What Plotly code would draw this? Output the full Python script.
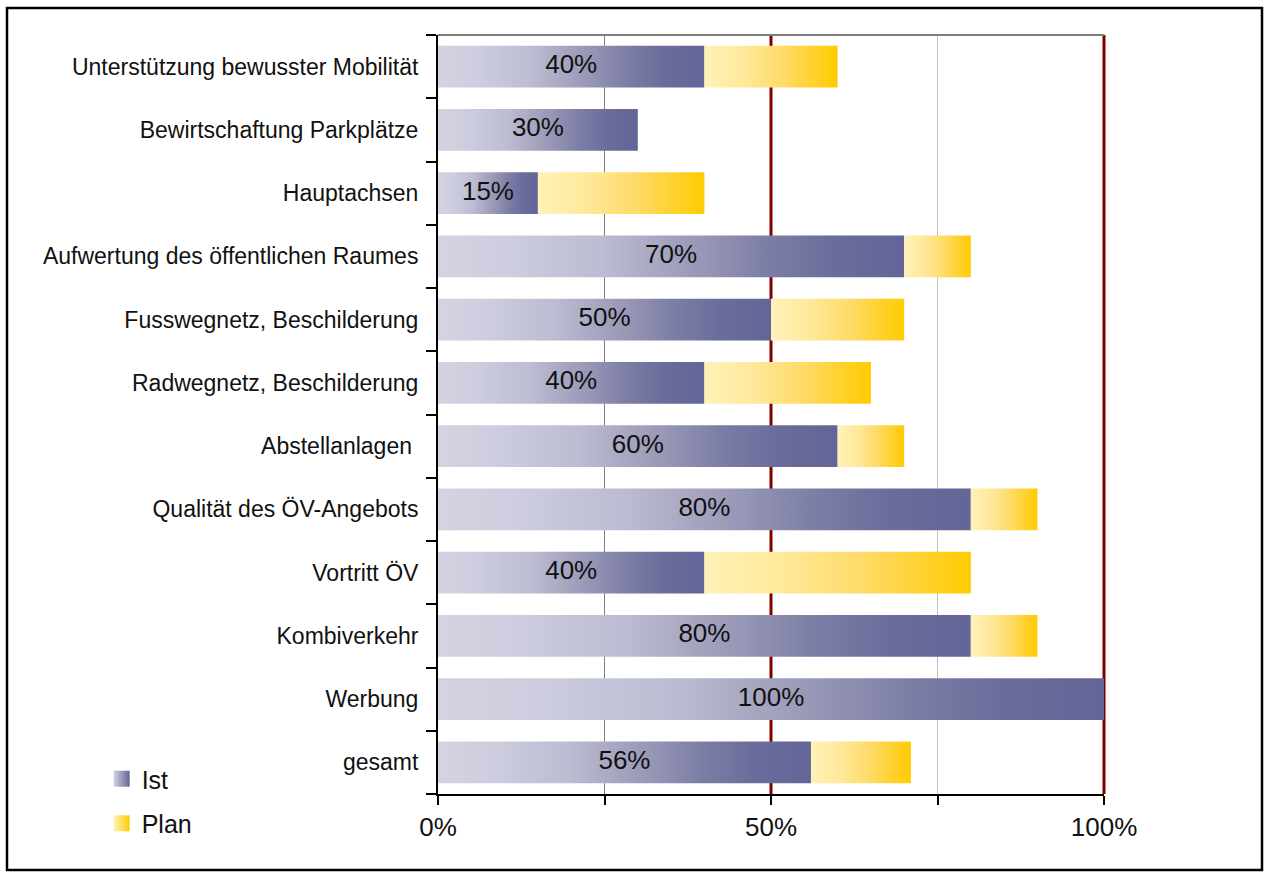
import plotly.graph_objects as go

categories = [
    "Unterstützung bewusster Mobilität",
    "Bewirtschaftung Parkplätze",
    "Hauptachsen",
    "Aufwertung des öffentlichen Raumes",
    "Fusswegnetz, Beschilderung",
    "Radwegnetz, Beschilderung",
    "Abstellanlagen ",
    "Qualität des ÖV-Angebots",
    "Vortritt ÖV",
    "Kombiverkehr",
    "Werbung",
    "gesamt",
]
ist_values = [40, 30, 15, 70, 50, 40, 60, 80, 40, 80, 100, 56]
plan_values = [20, 0, 25, 10, 20, 25, 10, 10, 40, 10, 0, 15]
x_tick_vals = [0, 25, 50, 75, 100]
x_tick_text = ["0%", "", "50%", "", "100%"]

IST_SCALE = [[0, "#d3d3e3"], [0.15, "#cdcddf"], [0.35, "#bcbcd2"], [0.55, "#9a9ab8"],
             [0.7, "#7e7fa6"], [0.85, "#6a6c9b"], [1, "#636598"]]
PLAN_SCALE = [[0, "#fff2b8"], [0.3, "#ffe89a"], [0.6, "#ffda66"], [1, "#ffcb00"]]
FONT = "Liberation Sans, Arial, sans-serif"
H = 0.33

fig = go.Figure()

def seg(x0, x1, yi, scale, group):
    fig.add_trace(go.Scatter(
        x=[x0, x1, x1, x0, x0],
        y=[yi - H, yi - H, yi + H, yi + H, yi - H],
        mode="lines", fill="toself", line=dict(width=0, color="rgba(0,0,0,0)"),
        fillgradient=dict(type="horizontal", colorscale=scale, start=x0, stop=x1),
        legendgroup=group, showlegend=False, hoverinfo="skip",
    ))

for i, a in enumerate(ist_values):
    seg(0, a, i, IST_SCALE, "ist")
for i, (a, p) in enumerate(zip(ist_values, plan_values)):
    if p > 0:
        seg(a, a + p, i, PLAN_SCALE, "plan")

# legend entries (square gradient markers)
fig.add_trace(go.Scatter(
    x=[None], y=[None], mode="markers", name="Ist", legendgroup="ist",
    marker=dict(symbol="square", size=16, color="#d3d3e3", line=dict(width=0),
                gradient=dict(type="horizontal", color="#636598")),
))
fig.add_trace(go.Scatter(
    x=[None], y=[None], mode="markers", name="Plan", legendgroup="plan",
    marker=dict(symbol="square", size=16, color="#fff2b8", line=dict(width=0),
                gradient=dict(type="horizontal", color="#ffcb00")),
))

fig.add_trace(go.Scatter(
    x=[a / 2 for a in ist_values], y=list(range(len(categories))),
    mode="text", text=[f"{a}%" for a in ist_values],
    textfont=dict(family=FONT, size=26, color="#111111"),
    showlegend=False, hoverinfo="skip",
))

shapes = []
for xv, col, w in [(25, "#808080", 1), (75, "#c0c0c0", 1), (50, "#800000", 3)]:
    shapes.append(dict(type="line", xref="x", yref="paper", x0=xv, x1=xv, y0=0, y1=1,
                       line=dict(color=col, width=w), layer="below"))
shapes.append(dict(type="line", xref="paper", yref="paper", x0=1, x1=1, y0=0, y1=1,
                   line=dict(color="#800000", width=3), layer="below"))
shapes.append(dict(type="line", xref="paper", yref="paper", x0=0, x1=1, y0=1, y1=1,
                   line=dict(color="#808080", width=2), layer="below"))
# outer frame
shapes.append(dict(type="rect", xref="paper", yref="paper",
                   x0=(7 - 438) / 666, x1=(1262 - 438) / 666,
                   y0=(794 - 870) / 759, y1=(794 - 8) / 759,
                   line=dict(color="black", width=2.5), fillcolor="rgba(0,0,0,0)"))

fig.update_layout(
    width=1266, height=877,
    margin=dict(l=438, r=162, t=35, b=83),
    paper_bgcolor="white", plot_bgcolor="white",
    font=dict(family=FONT, color="#111111"),
    shapes=shapes,
    showlegend=True,
    legend=dict(x=-0.505, y=0.05, xanchor="left", yanchor="top",
                font=dict(size=25, family=FONT, color="#111111"),
                tracegroupgap=9, itemwidth=30, bgcolor="rgba(0,0,0,0)"),
    xaxis=dict(range=[0, 100], tickvals=x_tick_vals, ticktext=x_tick_text,
               showgrid=False, zeroline=False, showline=True, linecolor="black", linewidth=2,
               ticks="outside", ticklen=9, tickwidth=2, tickcolor="black",
               tickfont=dict(size=26, family=FONT, color="#111111"), fixedrange=True),
    yaxis=dict(range=[len(categories) - 0.5, -0.5], tickvals=list(range(len(categories))),
               ticktext=categories, showgrid=False, zeroline=False,
               showline=True, linecolor="black", linewidth=2,
               ticks="outside", ticklen=13, tickcolor="rgba(0,0,0,0)",
               tickfont=dict(size=23, family=FONT, color="#111111"),
               minor=dict(tickvals=[k - 0.5 for k in range(len(categories) + 1)],
                          ticks="outside", ticklen=10, tickwidth=2, tickcolor="black"),
               fixedrange=True),
)

fig.write_html("out.html", config={"displayModeBar": False},
               post_script="document.body.style.margin='0';")
